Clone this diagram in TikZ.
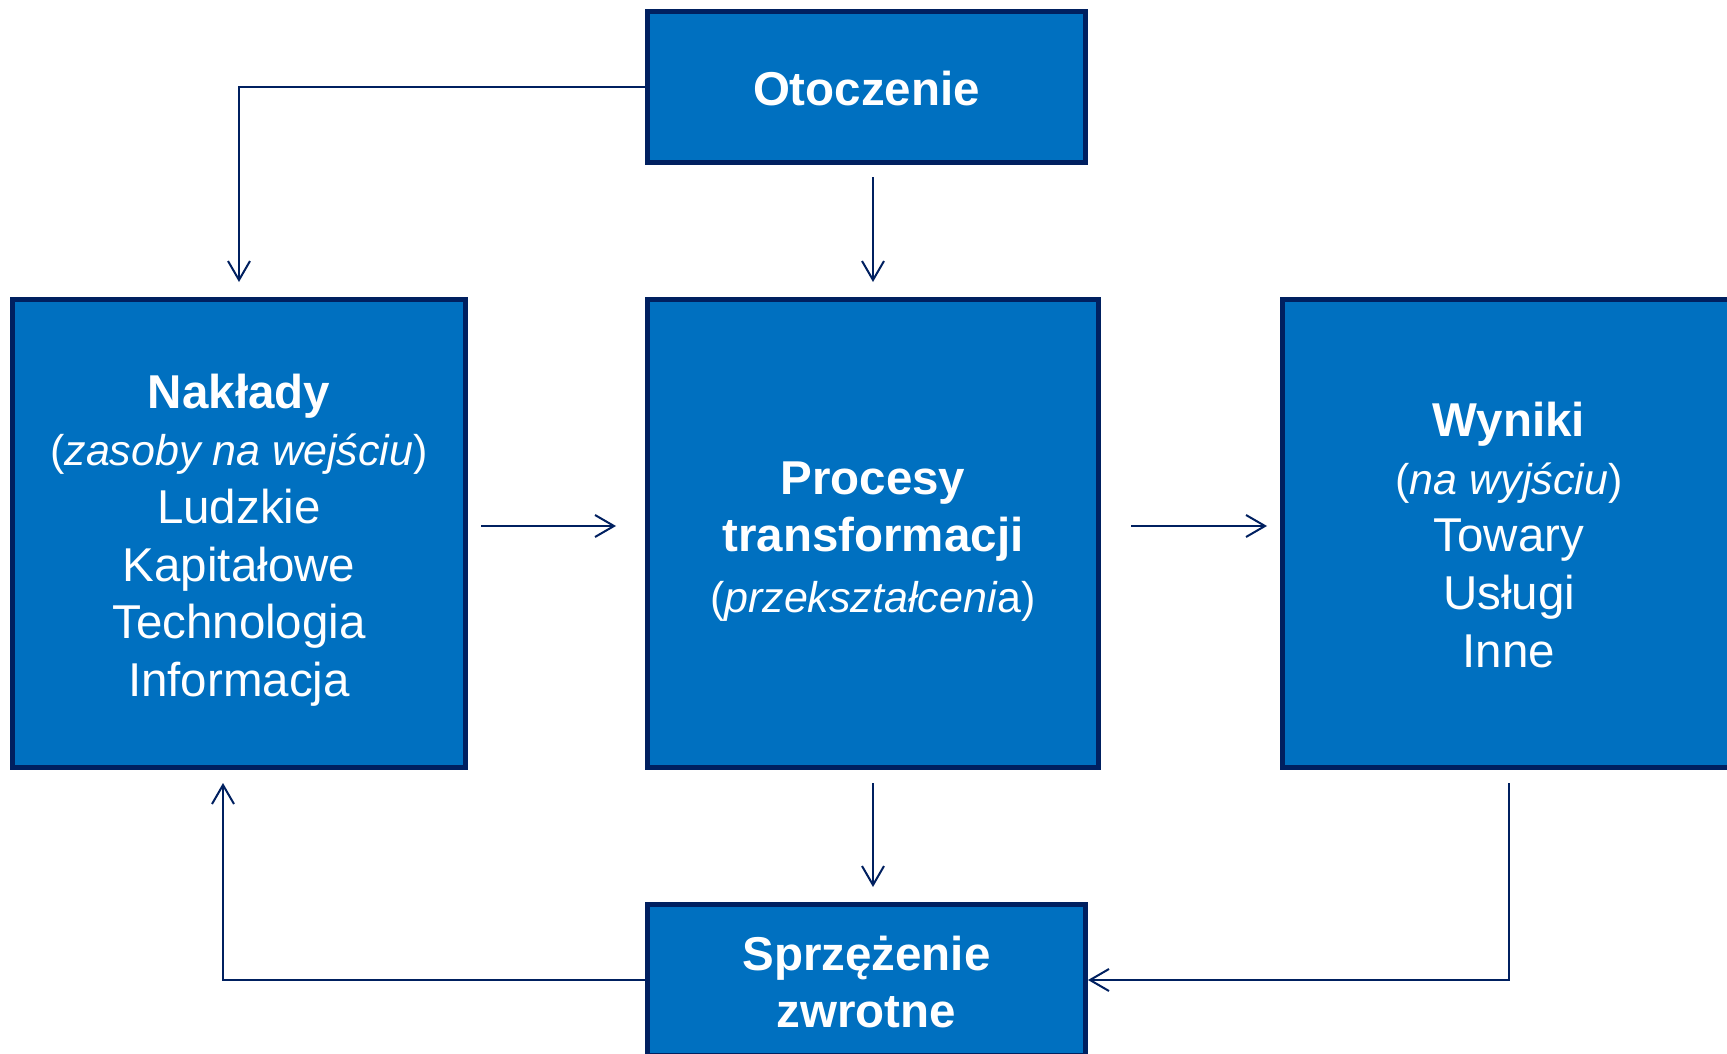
\documentclass[tikz,border=0pt]{standalone}
\usepackage{fontspec}
\setmainfont{Liberation Sans}
\usetikzlibrary{arrows.meta}
\definecolor{boxfill}{RGB}{0,112,192}
\definecolor{navy}{RGB}{0,32,96}
\newcommand{\smit}[1]{{\fontsize{43}{57.7}\selectfont #1}}
\tikzset{
  blk/.style={draw=navy, fill=boxfill, line width=5pt, inner sep=0pt},
  txt/.style={text=white, align=center, inner sep=0pt, font=\fontsize{47.5}{57.7}\selectfont},
  conn/.style={draw=navy, line width=2pt, -{Straight Barb[length=19pt,width=22pt,line width=2pt]}}
}
\begin{document}
\begin{tikzpicture}[x=1pt,y=-1pt]
\useasboundingbox (0,0) rectangle (1727,1054);
\begin{scope}
\clip (0,0) rectangle (1727,1054);
\node[blk, minimum width=438pt, minimum height=151pt] (oto) at (866.5,87) {};
\node[txt] (otot) at ([yshift=-2pt]oto.center) {\textbf{Otoczenie}};
\node[blk, minimum width=453pt, minimum height=468pt] (nak) at (239,533.5) {};
\node[txt] (nakt) at ([yshift=-6.6pt]nak.center)
  {\textbf{Nakłady}\\\smit{(\textit{zasoby na wejściu})}\\Ludzkie\\Kapitałowe\\Technologia\\Informacja};
\node[blk, minimum width=451pt, minimum height=468pt] (pro) at (873,533.5) {};
\node[txt] (prot) at ([yshift=-8pt]pro.center)
  {\textbf{Procesy}\\\textbf{transformacji}\\[3pt]\smit{(\textit{przekształceni}a)}};
\node[blk, minimum width=453pt, minimum height=468pt] (wyn) at (1509,533.5) {};
\node[txt] (wynt) at ([yshift=-1.5pt]wyn.center)
  {\textbf{Wyniki}\\\smit{(\textit{na wyjściu})}\\Towary\\Usługi\\Inne};
\node[blk, minimum width=438pt, minimum height=151pt] (spr) at (866.5,980) {};
\node[txt] (sprt) at ([yshift=-2pt]spr.center) {\textbf{Sprzężenie}\\\textbf{zwrotne}};

\draw[conn, shorten >=15pt] (oto.west) -| (nak.north);
\draw[conn, shorten <=12pt, shorten >=15pt] (oto.south -| pro.north) -- (pro.north);
\draw[conn, shorten <=13pt, shorten >=15pt] (pro.south) -- (pro.south |- spr.north);
\draw[conn, shorten <=13pt, shorten >=29pt] ([yshift=7.5pt]nak.east) -- ([yshift=7.5pt]pro.west);
\draw[conn, shorten <=30pt, shorten >=13pt] ([yshift=7.5pt]pro.east) -- ([yshift=7.5pt]wyn.west);
\coordinate (fb) at ([xshift=-16pt]nak.south);
\draw[conn, shorten >=13pt] (spr.west) -| (fb);
\draw[conn, shorten <=13pt] (wyn.south) |- (spr.east);
\end{scope}
\end{tikzpicture}
\end{document}
